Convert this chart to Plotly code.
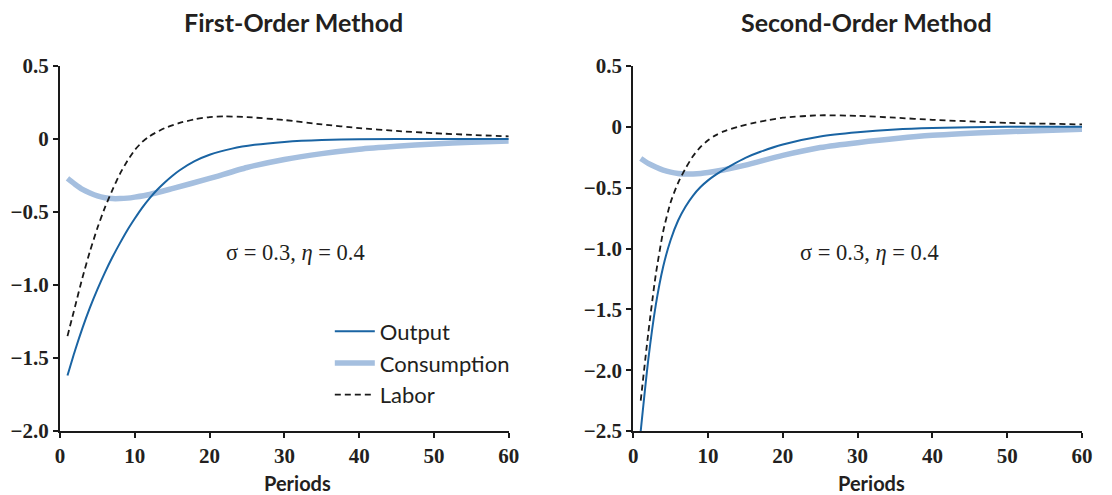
import plotly.graph_objects as go
from plotly.subplots import make_subplots

t_out1 = [1, 2, 3, 4, 5, 6, 7, 8, 9, 10, 11, 12, 13, 14, 15, 16, 18, 20, 23, 26, 30, 35, 40, 50, 60]
out1 = [-1.62, -1.45, -1.295, -1.155, -1.03, -0.915, -0.81, -0.715, -0.625, -0.545, -0.47,
        -0.405, -0.348, -0.298, -0.253, -0.214, -0.152, -0.108, -0.066, -0.04, -0.02, -0.007,
        -0.002, 0.0, 0.0]

t_con1 = [1, 2, 3, 4, 5, 6, 7, 8, 9, 10, 12, 15, 20, 25, 30, 35, 40, 45, 50, 55, 60]
con1 = [-0.27, -0.31, -0.345, -0.37, -0.39, -0.402, -0.408, -0.408, -0.405, -0.398, -0.38,
        -0.34, -0.27, -0.195, -0.14, -0.10, -0.07, -0.05, -0.034, -0.022, -0.014]

t_lab1 = [1, 2, 3, 4, 5, 6, 7, 8, 9, 10, 11, 12, 14, 16, 18, 20, 22, 25, 30, 35, 40, 45, 50, 55, 60]
lab1 = [-1.35, -1.15, -0.95, -0.77, -0.61, -0.47, -0.35, -0.24, -0.15, -0.075, -0.02, 0.02,
        0.075, 0.11, 0.135, 0.15, 0.155, 0.15, 0.13, 0.10, 0.075, 0.055, 0.04, 0.028, 0.018]

t_out2 = [1, 2, 3, 4, 5, 6, 7, 8, 9, 10, 11, 12, 13, 15, 17, 20, 25, 30, 35, 40, 50, 60]
out2 = [-2.5, -1.92, -1.47, -1.15, -0.93, -0.77, -0.655, -0.565, -0.495, -0.44, -0.395, -0.355,
        -0.32, -0.255, -0.205, -0.145, -0.08, -0.045, -0.022, -0.01, 0.0, 0.0]

t_con2 = [1, 2, 3, 4, 5, 6, 7, 8, 9, 10, 12, 15, 20, 25, 30, 40, 50, 60]
con2 = [-0.26, -0.3, -0.33, -0.355, -0.372, -0.383, -0.388, -0.388, -0.384, -0.376, -0.355,
        -0.315, -0.235, -0.17, -0.13, -0.07, -0.04, -0.02]

t_lab2 = [1, 2, 3, 4, 5, 6, 7, 8, 9, 10, 11, 12, 14, 16, 18, 20, 25, 30, 35, 40, 50, 60]
lab2 = [-2.25, -1.70, -1.22, -0.86, -0.62, -0.46, -0.34, -0.24, -0.165, -0.11, -0.07, -0.04,
        0.0, 0.03, 0.055, 0.075, 0.095, 0.09, 0.075, 0.058, 0.033, 0.02]

titles = ["First-Order Method", "Second-Order Method"]
x_ticks = [0, 10, 20, 30, 40, 50, 60]
y_ticks1 = [0.5, 0, -0.5, -1.0, -1.5, -2.0]
y_ticks2 = [0.5, 0, -0.5, -1.0, -1.5, -2.0, -2.5]


def fmt(v):
    if v == 0:
        return "0"
    s = "%.1f" % abs(v)
    return ("\u2212" + s) if v < 0 else s


BLUE = "#1a64a3"
LIGHT = "#a5bfdf"
INK = "#231f20"
sans = "Lato"
serif = "Liberation Serif"
DASH = "6px,4px"

fig = make_subplots(rows=1, cols=2, horizontal_spacing=0.1218)

panels = [(t_out1, out1, t_con1, con1, t_lab1, lab1), (t_out2, out2, t_con2, con2, t_lab2, lab2)]
for i, (to, o, tc, c, tl, l) in enumerate(panels):
    fig.add_trace(go.Scatter(x=tc, y=c, mode="lines", name="Consumption", showlegend=False,
                             line=dict(color=LIGHT, width=5.5, shape="spline", smoothing=0.6)),
                  row=1, col=i + 1)
    fig.add_trace(go.Scatter(x=to, y=o, mode="lines", name="Output", showlegend=False,
                             line=dict(color=BLUE, width=2, shape="spline", smoothing=0.6)),
                  row=1, col=i + 1)
    fig.add_trace(go.Scatter(x=tl, y=l, mode="lines", name="Labor", showlegend=False,
                             line=dict(color="#1a1a1a", width=1.8, dash=DASH, shape="spline",
                                       smoothing=0.6)),
                  row=1, col=i + 1)

# legend entries in the order shown on the chart
fig.add_trace(go.Scatter(x=[None], y=[None], mode="lines", name="Output",
                         line=dict(color=BLUE, width=2)), row=1, col=1)
fig.add_trace(go.Scatter(x=[None], y=[None], mode="lines", name="Consumption",
                         line=dict(color=LIGHT, width=5.5)), row=1, col=1)
fig.add_trace(go.Scatter(x=[None], y=[None], mode="lines", name="Labor",
                         line=dict(color="#1a1a1a", width=1.8, dash=DASH)), row=1, col=1)

for i, yt in enumerate([y_ticks1, y_ticks2]):
    fig.update_xaxes(range=[0, 60], tickvals=x_ticks, ticktext=["<b>%d</b>" % v for v in x_ticks],
                     tickfont=dict(family=serif, size=21, color=INK),
                     showgrid=False, zeroline=False, showline=True, linecolor="#1a1a1a",
                     linewidth=2, ticks="outside", ticklen=5, tickwidth=2, tickcolor="#1a1a1a",
                     automargin=False, row=1, col=i + 1)
    fig.update_yaxes(range=[min(yt), max(yt)], tickvals=yt,
                     ticktext=["<b>%s</b>" % fmt(v) for v in yt],
                     tickfont=dict(family=serif, size=21, color=INK),
                     showgrid=False, zeroline=False, showline=True, linecolor="#1a1a1a",
                     linewidth=2, ticks="outside", ticklen=5, tickwidth=2, tickcolor="#1a1a1a",
                     automargin=False, row=1, col=i + 1)

for i, title in enumerate(titles):
    xr = "x%s domain" % ("" if i == 0 else "2")
    fig.add_annotation(text="<b>" + title + "</b>", xref=xr, yref="paper", x=0.52, y=1.0,
                       yanchor="middle", yshift=44, showarrow=False,
                       font=dict(family=sans, size=25, color=INK))
    fig.add_annotation(text="<b>Periods</b>", xref=xr, yref="paper", x=0.53, y=0.0,
                       yanchor="middle", yshift=-52, showarrow=False,
                       font=dict(family=sans, size=20, color=INK))

ann_pos = [(31.5, -0.78), (31.6, -1.03)]
for i, (ax, ay) in enumerate(ann_pos):
    fig.add_annotation(text="\u03c3 = 0.3, <i>\u03b7</i> = 0.4", x=ax, y=ay,
                       xref="x" if i == 0 else "x2", yref="y" if i == 0 else "y2",
                       showarrow=False, font=dict(family=serif, size=22.5, color=INK))

fig.update_layout(
    width=1112, height=495,
    margin=dict(l=52, r=38, t=58, b=72, autoexpand=False),
    plot_bgcolor="white", paper_bgcolor="white",
    font=dict(family=serif, color=INK),
    legend=dict(x=0.264, y=0.33, xanchor="left", yanchor="top", bgcolor="rgba(0,0,0,0)",
                font=dict(family=sans, size=22, color=INK), tracegroupgap=0,
                itemwidth=40),
)

fig.write_html("out.html")
